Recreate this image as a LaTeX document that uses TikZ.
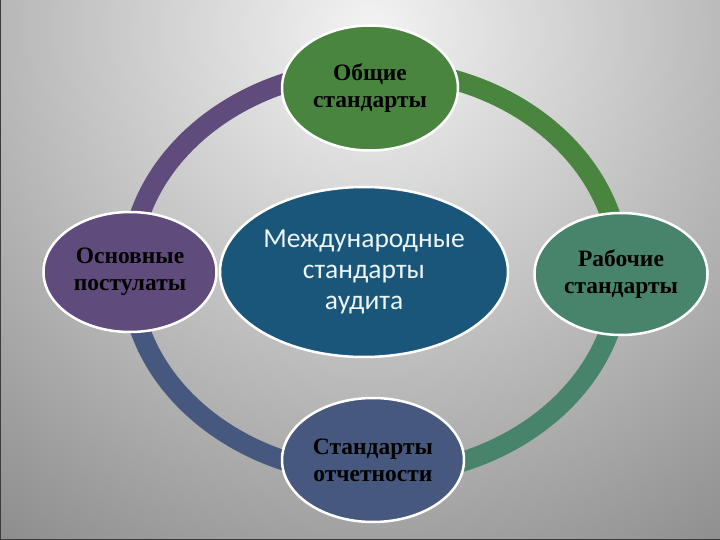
\documentclass[tikz,border=0pt]{standalone}
\usepackage{fontspec}
\setmainfont{Liberation Serif}
\newfontfamily\calibfont{Carlito}
\usetikzlibrary{shapes.geometric}
\definecolor{bgLight}{RGB}{243,243,243}
\definecolor{bgDark}{RGB}{138,138,138}
\definecolor{edgeDark}{RGB}{60,60,60}
\definecolor{cPurple}{RGB}{96,75,125}
\definecolor{cGreen}{RGB}{73,133,62}
\definecolor{cTeal}{RGB}{72,131,108}
\definecolor{cSlate}{RGB}{71,88,127}
\definecolor{cCenter}{RGB}{26,86,122}
\definecolor{cCenterText}{RGB}{236,244,244}
\begin{document}
\begin{tikzpicture}[x=1pt,y=-1pt,
  outernode/.style={ellipse, draw=white, line width=2.5pt, inner sep=0pt,
    align=center, text=black, font=\bfseries\fontsize{23.5}{27}\selectfont},
  centernode/.style={ellipse, draw=white, line width=2.5pt, inner sep=0pt,
    align=center, text=cCenterText, font=\calibfont\fontsize{27.5}{31}\selectfont},
  ringarc/.style={line width=20pt}]
\useasboundingbox (0,0) rectangle (720,540);
\begin{scope}
  \clip (0,0) rectangle (720,540);
  \shade[inner color=bgLight, outer color=bgDark] (370,30) circle[radius=650];
\end{scope}
\draw[edgeDark, line width=2.5pt] (0,0) -- (0,540) -- (720,540);
% ring
\draw[ringarc, cPurple] (130,272) arc[start angle=180, end angle=270, x radius=245, y radius=203];
\draw[ringarc, cGreen] (375,69) arc[start angle=270, end angle=360, x radius=245, y radius=203];
\draw[ringarc, cTeal] (620,272) arc[start angle=0, end angle=90, x radius=245, y radius=203];
\draw[ringarc, cSlate] (375,475) arc[start angle=90, end angle=180, x radius=245, y radius=203];
% nodes
\node[outernode, fill=cGreen, minimum width=176pt, minimum height=125pt] (top) at (370,88) {Общие\\стандарты};
\node[outernode, fill=cPurple, minimum width=173pt, minimum height=120pt] (left) at (130,272) {Основные\\постулаты};
\node[outernode, fill=cTeal, minimum width=173pt, minimum height=122pt] (right) at (621,274) {Рабочие\\стандарты};
\node[outernode, fill=cSlate, minimum width=182pt, minimum height=124pt] (bottom) at (373,460) {Стандарты\\отчетности};
\node[centernode, fill=cCenter, minimum width=288pt, minimum height=170pt] (center) at (364,272) {Международные\\стандарты\\аудита};
\end{tikzpicture}
\end{document}
